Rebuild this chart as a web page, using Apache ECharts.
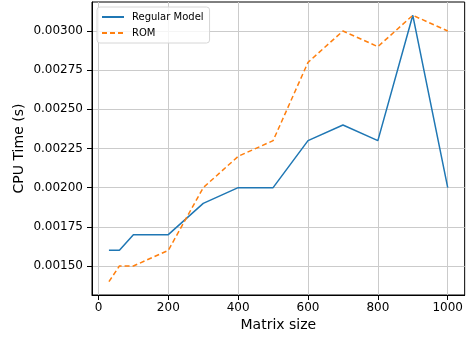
<!DOCTYPE html>
<html>
<head>
<meta charset="utf-8">
<script src="https://cdn.jsdelivr.net/npm/echarts@6/dist/echarts.min.js"></script>
<style>
  html, body { margin: 0; padding: 0; background: #fff; }
  #chart { width: 466px; height: 337px; }
</style>
</head>
<body>
<div id="chart"></div>
<script>
// data
var matrixSize = [30, 60, 100, 200, 300, 400, 500, 600, 700, 800, 900, 1000];
var regularModel = [0.0016, 0.0016, 0.0017, 0.0017, 0.0019, 0.0020, 0.0020, 0.0023, 0.0024, 0.0023, 0.0031, 0.0020];
var romModel = [0.0014, 0.0015, 0.0015, 0.0016, 0.0020, 0.0022, 0.0023, 0.0028, 0.0030, 0.0029, 0.0031, 0.0030];
var xTicks = [0, 200, 400, 600, 800, 1000];
var yTicks = [0.0015, 0.00175, 0.0020, 0.00225, 0.0025, 0.00275, 0.0030];

function pairs(xs, ys) {
    return xs.map(function (x, i) { return [x, ys[i]]; });
}

var chart = echarts.init(document.getElementById('chart'));
var font = 'DejaVu Sans';
var gridColor = '#cbcbcb';

chart.setOption({
    animation: false,
    textStyle: { fontFamily: font },
    grid: {
        left: 92, right: 1, top: 2, bottom: 41,
        show: true, borderColor: '#000', borderWidth: 1
    },
    legend: {
        left: 97, top: 7,
        orient: 'vertical',
        itemWidth: 22, itemHeight: 10, itemGap: 6,
        padding: [5, 6, 5, 4],
        itemStyle: { opacity: 0 },
        borderColor: '#d6d6d6', borderWidth: 1, borderRadius: 3,
        backgroundColor: 'rgba(255,255,255,0.8)',
        textStyle: { fontFamily: font, fontSize: 10, color: '#000', padding: [0, 0, 0, 3] },
        data: ['Regular Model', 'ROM']
    },
    xAxis: {
        type: 'value',
        min: -18.5, max: 1048.5,
        name: 'Matrix size',
        nameLocation: 'middle',
        nameGap: 23,
        nameMoveOverlap: false,
        nameTextStyle: { fontSize: 14, color: '#000', fontFamily: font },
        axisLine: { onZero: false, lineStyle: { color: '#000', width: 1 } },
        axisTick: { show: true, length: 5, customValues: xTicks, lineStyle: { color: '#000' } },
        axisLabel: {
            customValues: xTicks, fontSize: 12, color: '#000', margin: 7,
            formatter: function (v) { return String(v); }
        },
        splitLine: { show: true, lineStyle: { color: gridColor, width: 1 } }
    },
    yAxis: {
        type: 'value',
        min: 0.001315, max: 0.003185,
        name: 'CPU Time (s)',
        nameLocation: 'middle',
        nameGap: 66,
        nameMoveOverlap: false,
        nameTextStyle: { fontSize: 14, color: '#000', fontFamily: font },
        axisLine: { show: true, onZero: false, lineStyle: { color: '#000', width: 1 } },
        axisTick: { show: true, length: 5, customValues: yTicks, lineStyle: { color: '#000' } },
        axisLabel: {
            customValues: yTicks, fontSize: 12, color: '#000', margin: 9,
            formatter: function (v) { return v.toFixed(5); }
        },
        splitLine: { show: true, lineStyle: { color: gridColor, width: 1 } }
    },
    series: [
        {
            name: 'Regular Model',
            type: 'line',
            symbol: 'none',
            data: pairs(matrixSize, regularModel),
            lineStyle: { color: '#1f77b4', width: 1.5 },
            itemStyle: { color: '#1f77b4' }
        },
        {
            name: 'ROM',
            type: 'line',
            symbol: 'none',
            data: pairs(matrixSize, romModel),
            lineStyle: { color: '#ff7f0e', width: 1.5, type: [5, 3] },
            itemStyle: { color: '#ff7f0e' }
        }
    ]
});
</script>
</body>
</html>
